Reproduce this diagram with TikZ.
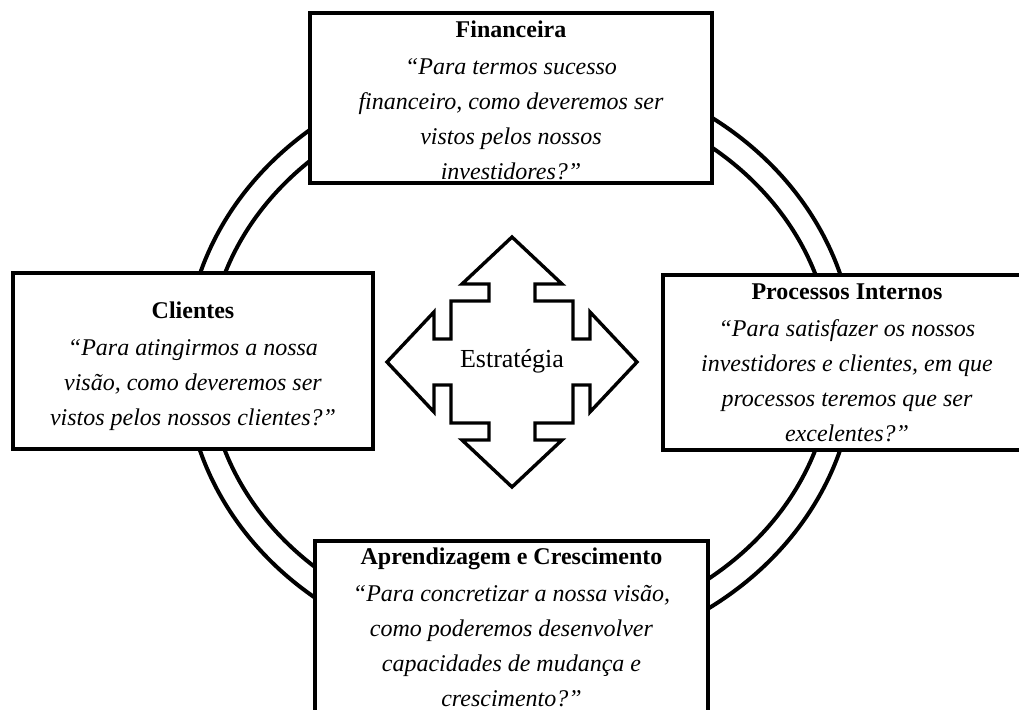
\documentclass[tikz,border=0pt]{standalone}
\usepackage{fontspec}
\setmainfont{Liberation Serif}

\begin{document}
\begin{tikzpicture}[
  x=0.5pt, y=-0.5pt,
  ring/.style={line width=2pt},
  quadarrow/.style={line width=1.7pt, line join=miter},
  persp/.style={draw, line width=2.1pt, fill=white, align=center, inner sep=0pt,
    font=\fontsize{12}{17.5}\selectfont}
]
  \useasboundingbox (0,0) rectangle (1019,709);
  \draw[ring] (520,362) ellipse [x radius=335, y radius=298];
  \draw[ring] (520,362) ellipse [x radius=312, y radius=272];
  \begin{scope}[shift={(512,362)}, yscale=-1]
    \draw[quadarrow] (0,125) -- (50,78) -- (23,78) -- (23,61) -- (61,61) -- (61,23)
      -- (78,23) -- (78,50) -- (125,0) -- (78,-50) -- (78,-23) -- (61,-23) -- (61,-61)
      -- (23,-61) -- (23,-78) -- (50,-78) -- (0,-125) -- (-50,-78) -- (-23,-78)
      -- (-23,-61) -- (-61,-61) -- (-61,-23) -- (-78,-23) -- (-78,-50) -- (-125,0)
      -- (-78,50) -- (-78,23) -- (-61,23) -- (-61,61) -- (-23,61) -- (-23,78)
      -- (-50,78) -- cycle;
    \node[font=\fontsize{13}{15}\selectfont] (estrategia) at (0,1) {Estratégia};
  \end{scope}
  \node[persp, minimum width=201pt, minimum height=85pt] (financeira) at (511,98)
    {\rule{0pt}{11pt}\textbf{Financeira}\\[1pt]\textit{“Para termos sucesso}\\
     \textit{financeiro, como deveremos ser}\\\textit{vistos pelos nossos}\\
     \textit{investidores?”}};
  \node[persp, minimum width=180pt, minimum height=88pt] (clientes) at (193,361)
    {\rule{0pt}{14pt}\textbf{Clientes}\\[1pt]\textit{“Para atingirmos a nossa}\\
     \textit{visão, como deveremos ser}\\\textit{vistos pelos nossos clientes?”}};
  \node[persp, minimum width=184pt, minimum height=87.5pt] (processos) at (847,362.5)
    {\textbf{Processos Internos}\\[1pt]\textit{“Para satisfazer os nossos}\\
     \textit{investidores e clientes, em que}\\\textit{processos teremos que ser}\\
     \textit{excelentes?”}};
  \node[persp, minimum width=196.5pt, inner ysep=3.4pt, anchor=north] (aprendizagem) at (511.5,539)
    {\textbf{Aprendizagem e Crescimento}\\[1pt]\textit{“Para concretizar a nossa visão,}\\
     \textit{como poderemos desenvolver}\\\textit{capacidades de mudança e}\\
     \textit{crescimento?”}\rule[-8pt]{0pt}{8pt}};
\end{tikzpicture}
\end{document}
